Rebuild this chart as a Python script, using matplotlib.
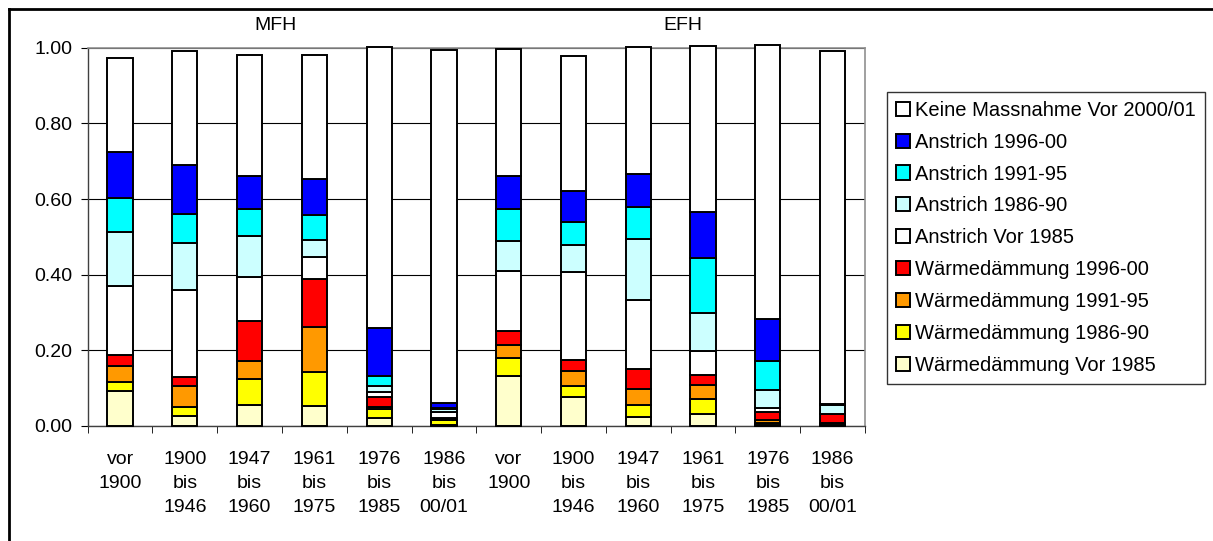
import numpy as np
import matplotlib
matplotlib.use("Agg")
import matplotlib.pyplot as plt
from matplotlib.lines import Line2D
from matplotlib.patches import Patch

plt.rcParams['font.family'] = ['Liberation Sans', 'DejaVu Sans']

categories = ["vor\n1900", "1900\nbis\n1946", "1947\nbis\n1960", "1961\nbis\n1975",
              "1976\nbis\n1985", "1986\nbis\n00/01",
              "vor\n1900", "1900\nbis\n1946", "1947\nbis\n1960", "1961\nbis\n1975",
              "1976\nbis\n1985", "1986\nbis\n00/01"]

# shares per building-age class, stacked bottom to top (MFH first, then EFH)
waerme_vor85 = [0.093, 0.027, 0.055, 0.054, 0.022, 0.002, 0.132, 0.076, 0.025, 0.031, 0.003, 0.002]
waerme_86_90 = [0.024, 0.024, 0.068, 0.088, 0.023, 0.014, 0.047, 0.030, 0.030, 0.041, 0.004, 0.001]
waerme_91_95 = [0.041, 0.054, 0.050, 0.119, 0.006, 0.002, 0.034, 0.040, 0.044, 0.036, 0.010, 0.006]
waerme_96_00 = [0.029, 0.025, 0.105, 0.127, 0.025, 0.002, 0.039, 0.028, 0.052, 0.026, 0.021, 0.024]
anstrich_vor85 = [0.183, 0.229, 0.116, 0.058, 0.013, 0.018, 0.158, 0.233, 0.181, 0.064, 0.010, 0.000]
anstrich_86_90 = [0.142, 0.126, 0.108, 0.045, 0.016, 0.007, 0.079, 0.071, 0.161, 0.101, 0.048, 0.022]
anstrich_91_95 = [0.092, 0.076, 0.072, 0.066, 0.028, 0.003, 0.084, 0.062, 0.086, 0.144, 0.075, 0.002]
anstrich_96_00 = [0.119, 0.128, 0.088, 0.095, 0.125, 0.012, 0.089, 0.082, 0.087, 0.122, 0.113, 0.002]
keine = [0.250, 0.302, 0.318, 0.328, 0.745, 0.933, 0.334, 0.355, 0.337, 0.440, 0.724, 0.931]

series = [
    ("Wärmedämmung Vor 1985", waerme_vor85, "#FFFFCC"),
    ("Wärmedämmung 1986-90", waerme_86_90, "#FFFF00"),
    ("Wärmedämmung 1991-95", waerme_91_95, "#FF9900"),
    ("Wärmedämmung 1996-00", waerme_96_00, "#FF0000"),
    ("Anstrich Vor 1985", anstrich_vor85, "#FFFFFF"),
    ("Anstrich 1986-90", anstrich_86_90, "#CCFFFF"),
    ("Anstrich 1991-95", anstrich_91_95, "#00FFFF"),
    ("Anstrich 1996-00", anstrich_96_00, "#0000FF"),
    ("Keine Massnahme Vor 2000/01", keine, "#FFFFFF"),
]

FS = 14
W, H = 1213, 541
fig = plt.figure(figsize=(W / 100, H / 100), dpi=100)
ax = fig.add_axes([87.7 / W, 1 - 426 / H, (865 - 87.7) / W, (426 - 47.7) / H])

x = np.arange(len(categories))
bottom = np.zeros(len(categories))
for label, vals, col in series:
    bars = ax.bar(x, vals, width=0.39, bottom=bottom, color=col, edgecolor="black",
                  linewidth=1.4, label=label, zorder=3)
    for b in bars:
        b.set_clip_on(False)
    bottom += np.array(vals)

ax.set_xlim(-0.5, len(categories) - 0.5)
ax.set_ylim(0, 1.0)
ax.set_yticks(np.arange(0, 1.01, 0.2))
ax.set_yticklabels([f"{v:.2f}" for v in np.arange(0, 1.01, 0.2)], fontsize=FS)
ax.yaxis.grid(True, color="black", linewidth=0.8, zorder=0)
ax.set_axisbelow(True)

ax.set_xticks(x)
ax.set_xticklabels(categories, fontsize=FS, linespacing=1.52, va="top")
ax.tick_params(axis="x", which="major", length=0, pad=18)
ax.set_xticks(np.arange(-0.5, len(categories), 1.0), minor=True)
ax.tick_params(axis="x", which="minor", length=5, direction="out", color="black")
ax.tick_params(axis="y", length=5, direction="out", pad=6)

for side in ("top", "right"):
    ax.spines[side].set_color("#909090")
    ax.spines[side].set_linewidth(1.2)
for side in ("left", "bottom"):
    ax.spines[side].set_color("#404040")
    ax.spines[side].set_linewidth(1.0)

fig.text(275 / W, 1 - 25 / H, "MFH", ha="center", va="center", fontsize=FS)
fig.text(683 / W, 1 - 25 / H, "EFH", ha="center", va="center", fontsize=FS)

# legend, top entry first
handles = [Patch(facecolor=c, edgecolor="black", linewidth=1.4, label=l)
           for l, v, c in reversed(series)]
leg = fig.legend(handles=handles, loc="upper left",
                 bbox_to_anchor=(886.7 / W, 1 - 91.7 / H), fontsize=14.5,
                 frameon=True, fancybox=False, edgecolor="black",
                 handlelength=0.7, handleheight=0.7, handletextpad=0.25,
                 labelspacing=0.64, borderpad=0.45, borderaxespad=0)
leg.get_frame().set_linewidth(1.0)

# outer chart frame
fig.add_artist(Line2D([9 / W, 9 / W], [0, 1 - 9 / H], transform=fig.transFigure,
                      color="black", linewidth=2))
fig.add_artist(Line2D([9 / W, 1], [1 - 9 / H, 1 - 9 / H], transform=fig.transFigure,
                      color="black", linewidth=2))

fig.savefig("out.png", dpi=100, facecolor="white")
